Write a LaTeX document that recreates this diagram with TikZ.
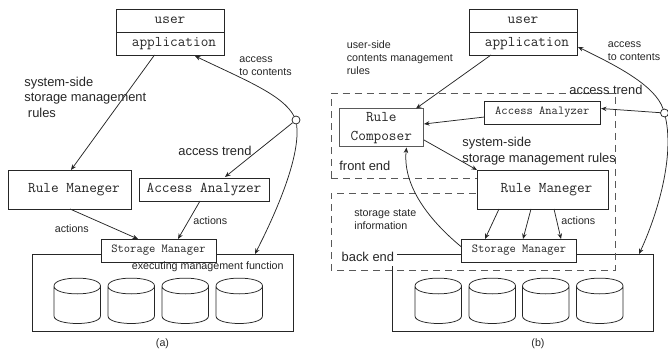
\documentclass[tikz,border=0pt]{standalone}
\usepackage{fontspec}
\setmainfont{Liberation Sans}
\setmonofont{Latin Modern Mono}
\usetikzlibrary{arrows.meta,shapes.geometric}
\tikzset{
  x=1pt,y=-1pt,
  conn/.style={-{Stealth[length=5.5pt,width=4.5pt]}},
  monobig/.style={draw,fill=white,inner sep=0,font=\ttfamily\fontsize{14.85}{18.5}\selectfont},
  monosmall/.style={draw,fill=white,inner sep=0,font=\ttfamily\fontsize{12.2}{15}\selectfont},
  txt/.style={draw=none,inner sep=0,anchor=west,align=left},
  lab/.style={txt,font=\fontsize{12.9}{15.5}\selectfont},
  sml/.style={txt,font=\fontsize{10.7}{13}\selectfont},
  dashline/.style={dash pattern=on 7pt off 5pt,color=black!65,line width=0.85pt},
  hub/.style={circle,draw,fill=white,inner sep=0,minimum size=8pt}
}
\newcommand{\cyl}[2]{%
  \draw[fill=white] (#1,#2) -- (#1,#2+30) .. controls (#1,#2+40) and (#1+46.5,#2+40) .. (#1+46.5,#2+30) -- (#1+46.5,#2)
     .. controls (#1+46.5,#2-10.5) and (#1,#2-10.5) .. (#1,#2)
     .. controls (#1,#2+10.5) and (#1+46.5,#2+10.5) .. (#1+46.5,#2);
}
\begin{document}
\begin{tikzpicture}[line width=0.75pt,color=black!85]
\useasboundingbox (0,0) rectangle (668,352);
% ---------- (a)
\node[monobig,minimum width=108pt,minimum height=23pt] (aU) at (170,20.5) {user};
\node[monobig,minimum width=108pt,minimum height=23pt] (aA) at (170,43.5) {\hspace{8pt}application};
\node[monobig,minimum width=122.5pt,minimum height=39pt] (aR) at (70,189.5) {\hspace{8pt}Rule Maneger};
\node[monobig,minimum width=130pt,minimum height=23pt] (aN) at (204,189.5) {Access Analyzer};
\node[draw,fill=white,minimum width=261pt,minimum height=76.5pt,inner sep=0] (aB) at (162.5,292.7) {};
\node[monosmall,minimum width=115pt,minimum height=23pt] (aS) at (158.5,250.5) {Storage Manager};
\cyl{54}{286}\cyl{108}{286}\cyl{162}{286}\cyl{216}{286}
\node[hub] (aH) at (296,120) {};
\coordinate (aUe) at (195,56);
\coordinate (aBe) at (255,254);
\coordinate (aNe) at (225,177);
\draw[conn] (aH) .. controls (283,95) and (245,80) .. (aUe);
\draw[conn] (aH) -- (aNe);
\draw[conn] (aH) .. controls (300,150) and (285,195) .. (aBe);
\coordinate (aA1) at (154.5,55); \coordinate (aR1) at (71,170);
\draw[conn] (aA1) -- (aR1);
\coordinate (aR2) at (70,209); \coordinate (aS2) at (138,239);
\draw[conn] (aR2) -- (aS2);
\coordinate (aN3) at (200,201); \coordinate (aS3) at (178,239);
\draw[conn] (aN3) -- (aS3);
\node[lab] (t1) at (24,97) {system-side\\storage management\\\ rules};
\node[sml] (t2) at (239,66) {access\\to contents};
\node[lab] (t3) at (178,151) {access trend};
\node[sml] (t4) at (54.5,228.5) {actions};
\node[sml] (t5) at (193,220.5) {actions};
\node[sml] (t6) at (131.5,266.5) {executing management function};
\node[sml,anchor=center] (t7) at (162.5,343.5) {(a)};
% ---------- (b)
\node[monobig,minimum width=108pt,minimum height=23pt] (bU) at (523,20.5) {user};
\node[monobig,minimum width=108pt,minimum height=23pt] (bA) at (523,43.5) {\hspace{8pt}application};
\node[draw,fill=white,minimum width=261pt,minimum height=76.5pt,inner sep=0] (bB) at (523,292.7) {};
\cyl{415}{286}\cyl{469}{286}\cyl{522.5}{286}\cyl{576.5}{286}
% dashed boxes
\coordinate (d1) at (331,93.5); \coordinate (d2) at (615,93.5); \coordinate (d3) at (615,270);
\coordinate (d4) at (331,270); \coordinate (d5) at (331,178); \coordinate (d6) at (477,178);
\coordinate (d7) at (331,193); \coordinate (d8) at (477,193);
\draw[dashline] (d5) -- (d1) -- (d2) -- (d3) -- (d4) -- (d7) -- (d8);
\draw[dashline] (d5) -- (d6);
\node[monobig,align=center,minimum width=84.5pt,minimum height=38pt,line width=1pt,draw=black!65] (bC) at (381.3,128) {Rule\\Composer};
\node[monosmall,minimum width=115.5pt,minimum height=23pt] (bN) at (542.3,112.5) {Access Analyzer};
\node[monobig,minimum width=131pt,minimum height=39pt] (bR) at (542.5,189.5) {\hspace{8pt}Rule Maneger};
\node[monosmall,minimum width=115pt,minimum height=23pt] (bS) at (519,250.5) {Storage Manager};
\node[hub] (bH) at (664.5,113) {};
\coordinate (bAe) at (578,47);
\coordinate (bNe) at (601,108.5);
\coordinate (bBe) at (639,254);
\draw[conn] (bH) .. controls (655,85) and (615,65) .. (bAe);
\draw[conn] (bH) -- (bNe);
\draw[conn] (bH) .. controls (675,160) and (655,220) .. (bBe);
\coordinate (bA1) at (491,55); \coordinate (bC1) at (416,108.5);
\draw[conn] (bA1) -- (bC1);
\coordinate (bN1) at (484.5,117); \coordinate (bC2) at (424,124);
\draw[conn] (bN1) -- (bC2);
\coordinate (bC3) at (424,140); \coordinate (bR1) at (477,170);
\draw[conn] (bC3) -- (bR1);
\coordinate (bS1) at (461.5,247); \coordinate (bC4) at (406.5,147.5);
\draw[conn] (bS1) .. controls (436,226) and (402,190) .. (bC4);
\coordinate (bR2) at (499,209); \coordinate (bS2) at (485,239);
\draw[conn] (bR2) -- (bS2);
\coordinate (bR3) at (531,209); \coordinate (bS3) at (523,239);
\draw[conn] (bR3) -- (bS3);
\coordinate (bR4) at (554,209); \coordinate (bS4) at (561,239);
\draw[conn] (bR4) -- (bS4);
\node[sml] (u1) at (346.5,57.5) {user-side\\contents management\\rules};
\node[sml] (u2) at (607.5,51) {access\\to contents};
\node[lab] (u3) at (569,90) {access trend};
\node[lab] (u4) at (462,151) {system-side\\storage management rules};
\node[lab] (u5) at (339,165.5) {front end};
\node[sml] (u6) at (354,219.5) {storage state\\information};
\node[sml] (u7) at (561,220.5) {actions};
\node[lab,fill=white,inner xsep=0pt,minimum height=19pt,minimum width=58pt] (u8) at (338.5,256.5) {back end};
\node[sml,anchor=center] (u9) at (538,343.5) {(b)};
\end{tikzpicture}
\end{document}
